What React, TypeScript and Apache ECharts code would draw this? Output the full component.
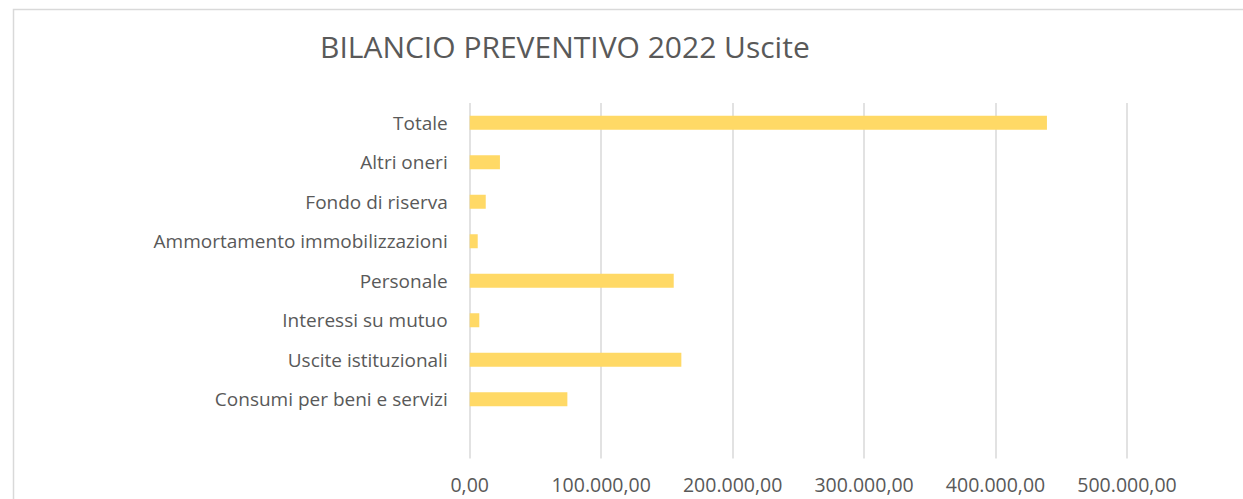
import React, { useEffect, useRef } from "react";
import * as echarts from "echarts";

const categories = [
  "",
  "Consumi per beni e servizi",
  "Uscite istituzionali",
  "Interessi su mutuo",
  "Personale",
  "Ammortamento immobilizzazioni",
  "Fondo di riserva",
  "Altri oneri",
  "Totale",
];
const values: (number | null)[] = [
  null,
  74300,
  161000,
  7300,
  155200,
  6100,
  12200,
  23000,
  439100,
];
const titleText = "BILANCIO PREVENTIVO 2022 Uscite";

const fmt = (v: number) => {
  const s = Math.round(v).toString().replace(/\B(?=(\d{3})+(?!\d))/g, ".");
  return s + ",00";
};

export default function App() {
  const ref = useRef<HTMLDivElement>(null);
  useEffect(() => {
    if (!ref.current) return;
    const chart = echarts.init(ref.current, null, { renderer: "svg" });
    const font = "'Open Sans', 'Noto Sans', sans-serif";
    chart.setOption({
      animation: false,
      backgroundColor: "#ffffff",
      textStyle: { fontFamily: font },
      title: {
        text: titleText,
        left: 315,
        top: 26,
        textStyle: { fontFamily: font, fontSize: 30, fontWeight: "normal", color: "#595959" },
      },
      graphic: [
        {
          type: "rect",
          shape: { x: 13.5, y: 9.5, width: 1400, height: 700 },
          style: { fill: "none", stroke: "#d9d9d9", lineWidth: 1.5 },
          silent: true,
        },
      ],
      grid: { left: 469.7, right: 116, top: 103, bottom: 40.5, containLabel: false },
      xAxis: {
        type: "value",
        min: 0,
        max: 500000,
        interval: 100000,
        axisLine: { show: false },
        axisTick: { show: false },
        splitLine: { lineStyle: { color: "#d9d9d9", width: 1.5 } },
        axisLabel: {
          formatter: (v: number) => fmt(v),
          color: "#595959",
          fontSize: 19.5,
          fontFamily: font,
          margin: 16,
        },
      },
      yAxis: {
        type: "category",
        data: categories,
        axisLine: { show: false },
        axisTick: { show: false },
        axisLabel: { color: "#595959", fontSize: 19, fontFamily: font, margin: 22 },
      },
      series: [
        {
          type: "bar",
          data: values,
          barWidth: 14,
          itemStyle: { color: "#FFD966" },
        },
      ],
    });
    return () => chart.dispose();
  }, []);
  return (
    <div
      ref={ref}
      style={{ position: "fixed", left: 0, top: 0, width: 1243, height: 499 }}
    />
  );
}
